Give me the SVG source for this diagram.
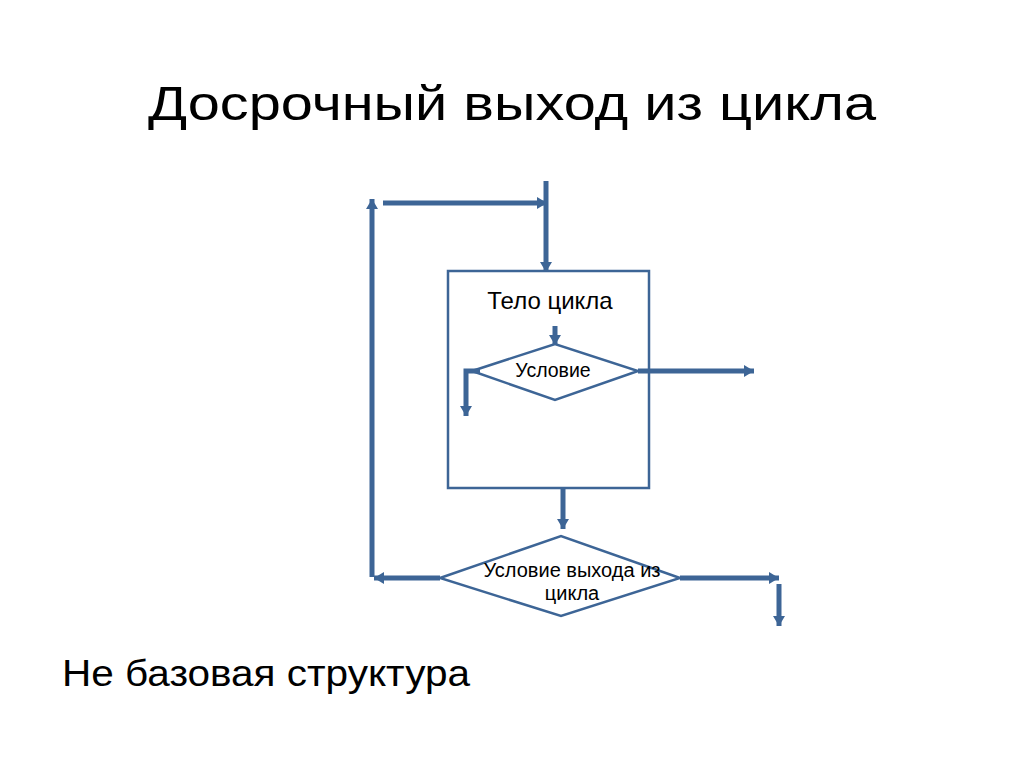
<svg xmlns="http://www.w3.org/2000/svg" width="1024" height="767" viewBox="0 0 1024 767">
<style>
.t{font-family:"Liberation Sans",Arial,sans-serif;fill:#000}
.shape{fill:#fff;stroke:#3D6596;stroke-width:2.5}
.c{fill:none;stroke:#3D6596;stroke-width:5}
</style>
<defs>
<marker id="ah" markerUnits="userSpaceOnUse" markerWidth="12" markerHeight="12" refX="10" refY="6" orient="auto">
<path d="M0,0 L10,6 L0,12 Z" fill="#3D6596"/>
</marker>
</defs>
<rect width="1024" height="767" fill="#fff"/>
<text class="t" x="512" y="120" font-size="49" text-anchor="middle" textLength="728" lengthAdjust="spacingAndGlyphs">Досрочный выход из цикла</text>
<g id="body">
<rect class="shape" x="448" y="271" width="201" height="217"/>
<text class="t" x="550" y="309" font-size="24" text-anchor="middle">Тело цикла</text>
</g>
<g id="cond">
<polygon class="shape" points="472,371 555,344 638,371 555,400"/>
<text class="t" x="553" y="377" font-size="19.5" text-anchor="middle">Условие</text>
</g>
<g id="exitcond">
<polygon class="shape" points="440,578 561,536 680,578 561,616"/>
<text class="t" x="572" y="577" font-size="20" text-anchor="middle">Условие выхода из</text>
<text class="t" x="572" y="600" font-size="20" text-anchor="middle">цикла</text>
</g>
<g id="connectors">
<path class="c" d="M372,577 V199" marker-end="url(#ah)"/>
<path class="c" d="M383,203 H547" marker-end="url(#ah)"/>
<path class="c" d="M546,181 V272" marker-end="url(#ah)"/>
<path class="c" d="M555,326 V345" marker-end="url(#ah)"/>
<path class="c" d="M480,371 H466 V416" marker-end="url(#ah)"/>
<path class="c" d="M638,371 H754" marker-end="url(#ah)"/>
<path class="c" d="M563,488 V529" marker-end="url(#ah)"/>
<path class="c" d="M440,578 H374" marker-end="url(#ah)"/>
<path class="c" d="M680,578 H779" marker-end="url(#ah)"/>
<path class="c" d="M779,584 V626" marker-end="url(#ah)"/>
</g>
<text class="t" x="62" y="686" font-size="36" textLength="408" lengthAdjust="spacingAndGlyphs">Не базовая структура</text>
</svg>
